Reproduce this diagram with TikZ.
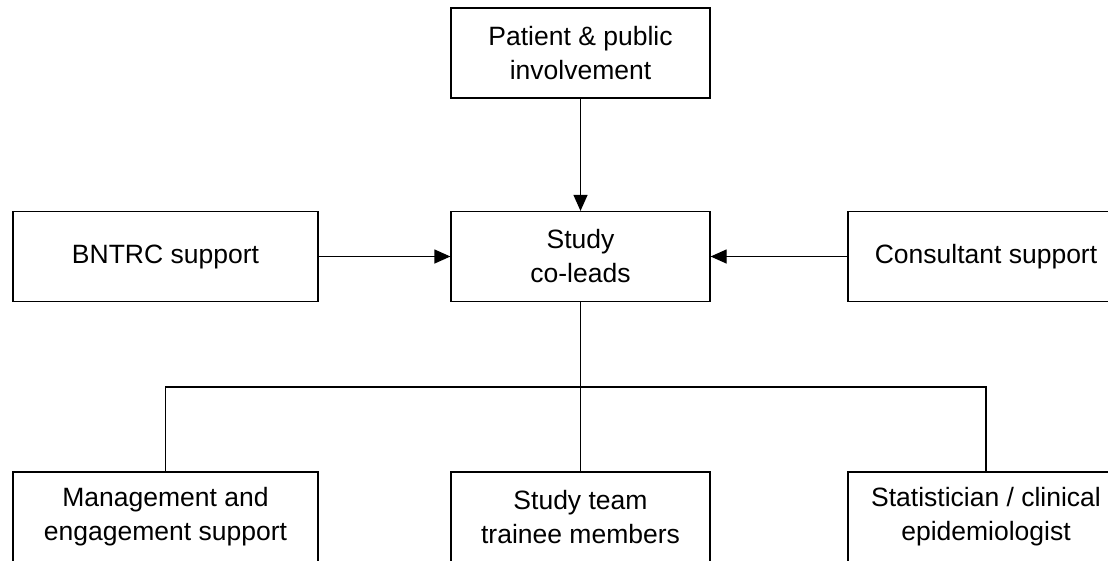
\documentclass[tikz,border=0pt]{standalone}
\usepackage{fontspec}
\setmainfont{Liberation Sans}
\usetikzlibrary{arrows.meta}

\begin{document}
\begin{tikzpicture}[
  x=1pt, y=-1pt,
  font=\fontsize{26.5}{34}\selectfont,
  >={Triangle[length=16pt,width=14pt]},
  box/.style={
    draw,
    rectangle,
    align=center,
    minimum width=259pt,
    minimum height=90pt,
    line width=1.2pt,
    inner sep=0pt
  },
  widebox/.style={box, minimum width=305pt},
  sidebox/.style={box, minimum width=276pt},
  arrow/.style={->, line width=1.2pt},
  link/.style={line width=1.2pt}
]
\useasboundingbox (0,0) rectangle (1108,560);
\clip (0,0) rectangle (1108,560);

\node[box] (ppi) at (580.5, 53) {Patient \& public\\involvement};

\node[box] (coleads) at (580.5, 256.5) {Study\\co-leads};
\node[widebox] (bntrc) at (165.5, 256.5) {BNTRC support};
\node[sidebox] (consult) at (986, 256.5) {Consultant support};

\node[widebox] (mgmt) at (165.5, 517) {Management and\\engagement support};
\node[box] (trainees) at (580.5, 517) {Study team\\trainee members};
\node[sidebox] (stats) at (986, 517) {Statistician / clinical\\epidemiologist};

\coordinate (split) at (580.5, 387);

\draw[arrow] (ppi) -- (coleads);
\draw[arrow] (bntrc) -- (coleads);
\draw[arrow] (consult) -- (coleads);

\draw[link] (coleads) -- (trainees);
\draw[link] (split) -| (mgmt);
\draw[link] (split) -| (stats);

\end{tikzpicture}
\end{document}
